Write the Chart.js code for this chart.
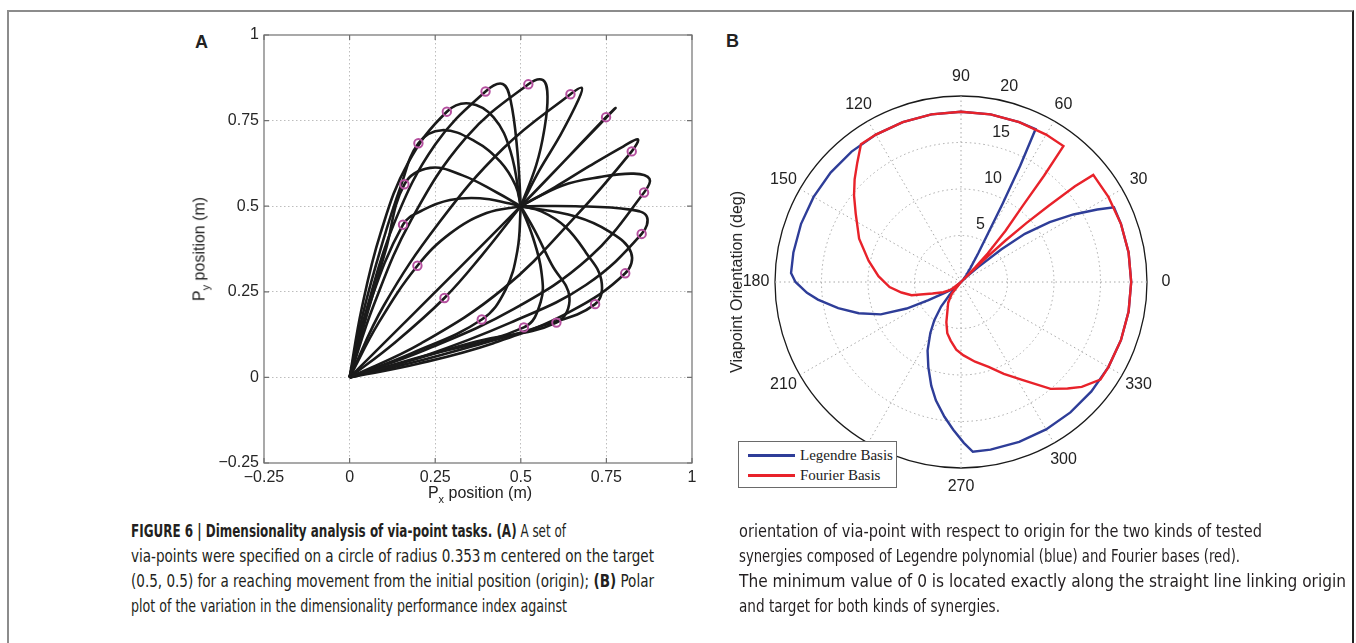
<!DOCTYPE html>
<html>
<head>
<meta charset="utf-8">
<script src="https://cdn.jsdelivr.net/npm/chart.js@4.4.1/dist/chart.umd.min.js"></script>
<style>
  html, body { margin: 0; padding: 0; background: #fff; }
  body { width: 1356px; height: 643px; position: relative; overflow: hidden;
         font-family: "Liberation Sans", Arial, sans-serif; color: #222; }
  #frame { position: absolute; left: 7px; top: 10px; width: 1343px; height: 700px;
           border-top: 2px solid #8c8c8c; border-left: 2px solid #8c8c8c; border-right: 2px solid #222; }
  canvas { position: absolute; }
  #chartA { left: 150px; top: 20px; }
  #chartB { left: 721px; top: 42px; }
  .panel { position: absolute; font-weight: bold; font-size: 18px; line-height: 20px; }
  .vtitle { position: absolute; white-space: nowrap; font-size: 16px;
            transform: translate(-50%, -50%) rotate(-90deg); }
  .htitle { position: absolute; white-space: nowrap; font-size: 16px; transform: translate(-50%, -50%); }
  sub { font-size: 11px; vertical-align: -5px; }
  #legendB { position: absolute; left: 738px; top: 441px; width: 157px; height: 45px;
             background: #fff; border: 1px solid #6a6a6a; font-family: "Liberation Serif", "DejaVu Serif", serif;
             font-size: 15px; }
  #legendB .row { position: absolute; left: 0; height: 20px; line-height: 20px; white-space: nowrap; }
  #legendB .swatch { position: absolute; left: 9px; top: 9px; width: 47px; height: 2.5px; }
  #legendB .txt { position: absolute; left: 61px; top: 0; }
  .cap { position: absolute; white-space: nowrap; font-size: 17px; line-height: 20px; color: #231f20;
         font-family: "Liberation Sans Narrow", "DejaVu Sans Condensed", "Liberation Sans", sans-serif;
         transform-origin: 0 50%; }
</style>
</head>
<body>
<div id="frame"></div>

<div class="panel" style="left:195px; top:32px;">A</div>
<div class="panel" style="left:726px; top:31px;">B</div>

<canvas id="chartA" width="560" height="480"></canvas>
<canvas id="chartB" width="480" height="480"></canvas>

<div class="vtitle" style="left:201px; top:249px;">P<sub>y</sub> position (m)</div>
<div class="htitle" style="left:480px; top:494px;">P<sub>x</sub> position (m)</div>
<div class="vtitle" style="left:737px; top:282px;">Viapoint Orientation (deg)</div>

<div id="legendB"></div>

<div class="cap" data-w="435" style="left:131px; top:521px;"><b>FIGURE 6 | Dimensionality analysis of via-point tasks. (A)</b> A set of</div>
<div class="cap" data-w="523" style="left:131px; top:546px;">via-points were specified on a circle of radius 0.353&#8201;m centered on the target</div>
<div class="cap" data-w="523" style="left:131px; top:571px;">(0.5, 0.5) for a reaching movement from the initial position (origin); <b>(B)</b> Polar</div>
<div class="cap" data-w="436" style="left:131px; top:596px;">plot of the variation in the dimensionality performance index against</div>
<div class="cap" data-w="523" style="left:739px; top:521px;">orientation of via-point with respect to origin for the two kinds of tested</div>
<div class="cap" data-w="501" style="left:739px; top:546px;">synergies composed of Legendre polynomial (blue) and Fourier bases (red).</div>
<div class="cap" data-w="607" style="left:739px; top:571px;">The minimum value of 0 is located exactly along the straight line linking origin</div>
<div class="cap" data-w="261" style="left:739px; top:596px;">and target for both kinds of synergies.</div>

<script>
// ---- panel A: reaching paths from the origin to the target through each via-point
const paths = [
  [[0,0],[0.05,0.18],[0.105,0.37],[0.160,0.564],[0.235,0.612],[0.33,0.59],[0.43,0.54],[0.5,0.5]],
  [[0,0],[0.04,0.19],[0.095,0.39],[0.15,0.56],[0.201,0.684],[0.27,0.722],[0.365,0.69],[0.44,0.63],[0.485,0.56],[0.5,0.5]],
  [[0,0],[0.035,0.2],[0.09,0.42],[0.17,0.625],[0.284,0.776],[0.35,0.8],[0.42,0.76],[0.47,0.66],[0.5,0.5]],
  [[0,0],[0.05,0.2],[0.13,0.45],[0.25,0.68],[0.397,0.835],[0.447,0.857],[0.47,0.81],[0.49,0.66],[0.5,0.5]],
  [[0,0],[0.07,0.21],[0.18,0.46],[0.34,0.7],[0.522,0.856],[0.565,0.868],[0.578,0.82],[0.568,0.72],[0.545,0.62],[0.5,0.5]],
  [[0,0],[0.1,0.21],[0.26,0.45],[0.45,0.67],[0.645,0.827],[0.678,0.846],[0.668,0.81],[0.613,0.703],[0.555,0.606],[0.5,0.5]],
  [[0,0],[0.5,0.5],[0.749,0.76],[0.775,0.785],[0.5,0.5]],
  [[0,0],[0.21,0.1],[0.45,0.26],[0.66,0.47],[0.824,0.66],[0.842,0.695],[0.8,0.675],[0.7,0.617],[0.6,0.556],[0.5,0.5]],
  [[0,0],[0.22,0.08],[0.48,0.2],[0.7,0.35],[0.86,0.54],[0.876,0.58],[0.83,0.595],[0.73,0.585],[0.62,0.56],[0.5,0.5]],
  [[0,0],[0.21,0.06],[0.47,0.16],[0.69,0.27],[0.853,0.419],[0.868,0.47],[0.82,0.49],[0.66,0.5],[0.5,0.5]],
  [[0,0],[0.2,0.04],[0.42,0.1],[0.64,0.19],[0.805,0.304],[0.822,0.365],[0.76,0.425],[0.66,0.47],[0.5,0.5]],
  [[0,0],[0.19,0.045],[0.39,0.1],[0.56,0.15],[0.717,0.214],[0.735,0.285],[0.69,0.365],[0.63,0.44],[0.56,0.485],[0.5,0.5]],
  [[0,0],[0.18,0.05],[0.37,0.105],[0.604,0.16],[0.642,0.235],[0.59,0.33],[0.54,0.43],[0.5,0.5]],
  [[0,0],[0.19,0.055],[0.509,0.146],[0.558,0.22],[0.56,0.31],[0.535,0.41],[0.5,0.5]],
  [[0,0],[0.18,0.07],[0.386,0.169],[0.455,0.255],[0.49,0.37],[0.5,0.5]],
  [[0,0],[0.13,0.1],[0.277,0.232],[0.385,0.355],[0.5,0.5]],
  [[0,0],[0.085,0.16],[0.198,0.326],[0.293,0.42],[0.4,0.48],[0.5,0.5]],
  [[0,0],[0.05,0.19],[0.156,0.446],[0.215,0.489],[0.293,0.518],[0.381,0.523],[0.468,0.508],[0.5,0.5]]
];
// via-points on the circle around the target
const viaX = [0.160, 0.201, 0.284, 0.397, 0.522, 0.645, 0.749, 0.824, 0.860, 0.853, 0.805, 0.717, 0.604, 0.509, 0.386, 0.277, 0.198, 0.156];
const viaY = [0.564, 0.684, 0.776, 0.835, 0.856, 0.827, 0.760, 0.660, 0.540, 0.419, 0.304, 0.214, 0.160, 0.146, 0.169, 0.232, 0.326, 0.446];
const axisTicks = [-0.25, 0, 0.25, 0.5, 0.75, 1];

// ---- panel B: dimensionality index against via-point orientation (deg)
const legendreAngles = [0,10,20,26,28,31,34,37,39,41,43,45,48,52,56,59,61,62,63,64,70,80,90,100,110,120,130,140,150,160,170,177,
  180,184,187,192,197,202,206,209,213,217,221,225,228,231,235,239,244,249,254,258,263,267,271,274,280,290,300,310,320,330,340,350];
const legendreValues = [18.3,18.3,18.3,18.3,16.6,14.1,11.5,8.6,5.6,2.4,0.8,0,0.4,0.9,1.8,3.6,6.2,9.5,14.0,18.3,18.3,18.3,18.3,18.3,18.3,18.3,18.3,18.3,18.3,18.3,18.3,18.3,
  17.8,16.6,15.5,13.5,11.5,9.3,6.5,4.0,2.3,1.5,1.0,0,1.8,3.4,5.0,6.4,8.2,9.8,11.6,13.0,14.6,15.9,17.3,18.3,18.3,18.3,18.3,18.3,18.3,18.3,18.3,18.3];
const fourierAngles = [0,10,20,30,39,40,41,42,43,44,45,46,47,49,51,52,53,60,70,80,90,100,110,120,126,131,136,141,147,157,167,176,
  184,190,195,202,210,217,225,232,238,244,250,255,260,266,272,280,288,295,302,310,315,319,325,330,340,350];
const fourierValues = [18.3,18.3,18.3,18.3,18.3,16.0,12.5,9.5,6.5,3.3,0,2.2,4.2,7.3,10.6,14.5,18.3,18.3,18.3,18.3,18.3,18.3,18.3,18.3,18.3,17.0,15.9,14.8,13.5,11.9,10.2,8.9,
  7.7,6.5,5.5,3.3,2.2,1.4,0,1.6,2.6,3.3,4.6,5.7,6.4,7.3,7.9,8.7,9.6,10.9,12.4,15.0,16.2,17.2,18.3,18.3,18.3,18.3];
const angleTickLabels = [0, 30, 60, 90, 120, 150, 180, 210, 240, 270, 300, 330];
const radiusTickLabels = [5, 10, 15, 20];

const FONT = '"Liberation Sans", Arial, sans-serif';
const fmtTick = v => (v < 0 ? '\u2212' : '') + Math.abs(v);

// box with inward tick marks, drawn over the data like a matlab axes
const axesBox = {
  id: 'axesBox',
  afterDatasetsDraw(chart) {
    const { ctx, chartArea: a, scales: { x, y } } = chart;
    ctx.save();
    ctx.strokeStyle = '#707070';
    ctx.lineWidth = 1.2;
    ctx.strokeRect(a.left, a.top, a.width, a.height);
    ctx.beginPath();
    axisTicks.forEach(v => {
      const px = x.getPixelForValue(v), py = y.getPixelForValue(v);
      ctx.moveTo(px, a.bottom); ctx.lineTo(px, a.bottom - 5);
      ctx.moveTo(px, a.top); ctx.lineTo(px, a.top + 5);
      ctx.moveTo(a.left, py); ctx.lineTo(a.left + 5, py);
      ctx.moveTo(a.right, py); ctx.lineTo(a.right - 5, py);
    });
    ctx.stroke();
    ctx.restore();
  }
};

const edgeTick = v => v === -0.25 || v === 1;
const linearAxis = (extra) => Object.assign({
  type: 'linear', min: -0.25, max: 1,
  afterBuildTicks: s => { s.ticks = axisTicks.map(v => ({ value: v })); },
  ticks: { callback: fmtTick, font: { family: FONT, size: 16 }, color: '#262626', padding: 5, maxRotation: 0, autoSkip: false },
  grid: { drawTicks: false, lineWidth: 1, color: c => (c.tick && edgeTick(c.tick.value)) ? 'rgba(0,0,0,0)' : '#bdbdbd' },
  border: { display: false, dash: [1.5, 2.5] }
}, extra);

const pathSets = paths.map(p => ({
  data: p.map(([x, y]) => ({ x, y })),
  showLine: true, fill: false, tension: 0.4,
  borderColor: '#1a1a1a', borderWidth: 2.6, pointRadius: 0, order: 1
}));
pathSets.push({
  data: viaX.map((x, i) => ({ x, y: viaY[i] })),
  showLine: false, pointRadius: 4.2, pointBorderWidth: 2,
  pointBorderColor: '#b5509f', pointBackgroundColor: 'rgba(0,0,0,0)', order: 0
});

new Chart(document.getElementById('chartA'), {
  type: 'scatter',
  data: { datasets: pathSets },
  options: {
    responsive: false, animation: false,
    layout: { padding: { top: 15, right: 18, left: 0, bottom: 0 } },
    plugins: { legend: { display: false }, tooltip: { enabled: false } },
    scales: {
      x: linearAxis({ afterFit: s => { s.height = 37; } }),
      y: linearAxis({ afterFit: s => { s.width = 114; } })
    }
  },
  plugins: [axesBox]
});

// radar scale with one category per degree; index i sits at orientation (360 - i) % 360
const orientations = Array.from({ length: 360 }, (_, i) => (360 - i) % 360);
const toSeries = (angles, values) => {
  const out = new Array(360).fill(null);
  angles.forEach((a, k) => { out[(360 - a) % 360] = values[k]; });
  return out;
};
const slotOf = a => (360 - a) % 360;

const polarText = {
  id: 'polarText',
  afterDraw(chart) {
    const { ctx } = chart;
    const r = chart.scales.r;
    ctx.save();
    ctx.fillStyle = '#222';
    ctx.font = '16px ' + FONT;
    ctx.textAlign = 'center';
    ctx.textBaseline = 'middle';
    angleTickLabels.forEach(a => {
      const p = r.getPointPosition(slotOf(a), r.drawingArea + 19);
      ctx.fillText(String(a), p.x, p.y);
    });
    ctx.textAlign = 'left';
    radiusTickLabels.forEach(v => {
      const p = r.getPointPositionForValue(slotOf(80), v);
      ctx.fillText(String(v), p.x + 7, p.y - 12);
    });
    ctx.restore();
  }
};

const chartB = new Chart(document.getElementById('chartB'), {
  type: 'radar',
  data: {
    labels: orientations,
    datasets: [
      { label: 'Legendre Basis', data: toSeries(legendreAngles, legendreValues), borderColor: '#2e3d98',
        borderWidth: 2.4, pointRadius: 0, fill: false, spanGaps: true, order: 2 },
      { label: 'Fourier Basis', data: toSeries(fourierAngles, fourierValues), borderColor: '#e8222a',
        borderWidth: 2.4, pointRadius: 0, fill: false, spanGaps: true, order: 1 }
    ]
  },
  options: {
    responsive: false, animation: false,
    layout: { padding: 54 },
    plugins: { legend: { display: false }, tooltip: { enabled: false } },
    elements: { line: { tension: 0 } },
    scales: {
      r: {
        min: 0, max: 20, startAngle: 90,
        ticks: { display: false, stepSize: 5 },
        pointLabels: { display: false },
        grid: { circular: true,
                color: c => (c.tick && c.tick.value === 20) ? '#1a1a1a' : '#a8a8a8',
                lineWidth: c => (c.tick && c.tick.value === 20) ? 1.3 : 1 },
        border: { dash: c => (c.tick && c.tick.value === 20) ? [] : [1.5, 3] },
        angleLines: { color: '#a8a8a8', borderDash: [1.5, 3],
                      lineWidth: c => (c.index % 30 === 0) ? 1 : 0 }
      }
    }
  },
  plugins: [polarText]
});

// legend box built from the polar datasets
document.getElementById('legendB').innerHTML = chartB.data.datasets.map((d, i) =>
  `<div class="row" style="top:${3 + i * 20}px; width:100%;">` +
  `<div class="swatch" style="background:${d.borderColor}"></div><div class="txt">${d.label}</div></div>`
).join('');

// squeeze each caption line to its column width
document.querySelectorAll('.cap').forEach(el => {
  const w = el.getBoundingClientRect().width;
  el.style.transform = `scaleX(${(+el.dataset.w / w).toFixed(4)})`;
});
</script>
</body>
</html>
